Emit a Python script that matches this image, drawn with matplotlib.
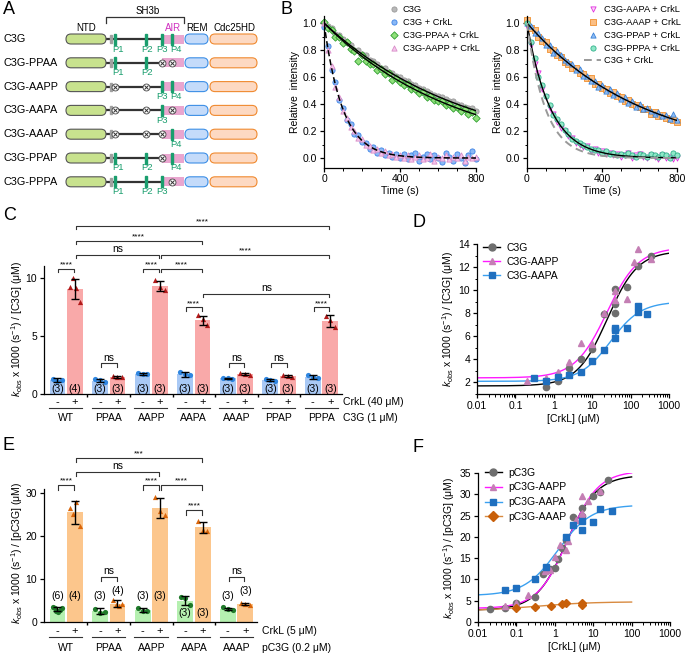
import numpy as np
import matplotlib.pyplot as plt
from matplotlib.patches import FancyBboxPatch, Rectangle
from matplotlib.lines import Line2D
from matplotlib.ticker import MultipleLocator, LogLocator, NullFormatter

plt.rcParams['font.family'] = ['Liberation Sans', 'DejaVu Sans']
plt.rcParams['mathtext.fontset'] = 'custom'
plt.rcParams['mathtext.rm'] = 'Liberation Sans'
plt.rcParams['mathtext.it'] = 'Liberation Sans:italic'
plt.rcParams['font.size'] = 7.5
plt.rcParams['axes.linewidth'] = 0.9
plt.rcParams['axes.labelsize'] = 7.5
plt.rcParams['axes.labelpad'] = 2
plt.rcParams['axes.spines.top'] = False
plt.rcParams['axes.spines.right'] = False
for a in ('xtick', 'ytick'):
    plt.rcParams[a + '.major.width'] = 0.9
    plt.rcParams[a + '.minor.width'] = 0.7
    plt.rcParams[a + '.major.size'] = 3
    plt.rcParams[a + '.minor.size'] = 1.8
    plt.rcParams[a + '.labelsize'] = 7.5
    plt.rcParams[a + '.major.pad'] = 2

# ---------------- data ----------------
# A: constructs
variant_names = ['C3G', 'C3G-PPAA', 'C3G-AAPP', 'C3G-AAPA', 'C3G-AAAP', 'C3G-PPAP', 'C3G-PPPA']
variant_motifs = ['PPPP', 'PPAA', 'AAPP', 'AAPA', 'AAAP', 'PPAP', 'PPPA']
motif_names = ['P1', 'P2', 'P3', 'P4']

# B: relative intensity time courses (every 20 s)
time_s = np.arange(0, 801, 20)
b_c3g = [1.00, 0.98, 0.96, 0.92, 0.91, 0.88, 0.86, 0.84, 0.80, 0.80, 0.77, 0.76, 0.73, 0.72,
         0.70, 0.67, 0.67, 0.64, 0.63, 0.61, 0.60, 0.58, 0.57, 0.55, 0.54, 0.52, 0.51, 0.50,
         0.48, 0.47, 0.46, 0.45, 0.44, 0.42, 0.42, 0.40, 0.39, 0.38, 0.37, 0.37, 0.35]
b_c3g_crkl = [0.97, 0.83, 0.65, 0.56, 0.43, 0.37, 0.28, 0.25, 0.18, 0.17, 0.12, 0.11, 0.07, 0.08,
              0.04, 0.06, 0.02, 0.04, 0.01, 0.03, 0.00, 0.03, -0.01, 0.02, 0.04, -0.02, 0.01,
              0.03, -0.01, 0.02, 0.00, -0.03, 0.04, 0.01, -0.02, 0.03, 0.00, -0.04, 0.02, 0.05, -0.01]
b_ppaa = [1.01, 0.96, 0.95, 0.90, 0.90, 0.85, 0.86, 0.81, 0.79, 0.72, 0.76, 0.72, 0.70, 0.70,
          0.65, 0.66, 0.62, 0.63, 0.58, 0.59, 0.56, 0.54, 0.55, 0.51, 0.51, 0.48, 0.49, 0.45,
          0.46, 0.43, 0.42, 0.42, 0.39, 0.40, 0.37, 0.38, 0.35, 0.36, 0.33, 0.34, 0.30]
b_aapp = [1.00, 0.80, 0.68, 0.53, 0.45, 0.35, 0.30, 0.23, 0.20, 0.15, 0.14, 0.10, 0.09, 0.06,
          0.07, 0.04, 0.05, 0.02, 0.03, 0.01, 0.02, 0.00, 0.02, -0.01, 0.01, 0.02, -0.01, 0.00,
          0.03, -0.02, 0.01, 0.00, 0.02, -0.01, 0.01, 0.00, 0.02, -0.02, 0.01, 0.00, 0.01]
b_aapa = [0.98, 0.84, 0.70, 0.63, 0.51, 0.45, 0.37, 0.33, 0.27, 0.22, 0.20, 0.16, 0.15, 0.11,
          0.10, 0.08, 0.09, 0.05, 0.07, 0.04, 0.05, 0.03, 0.04, 0.02, 0.03, 0.01, 0.02, 0.04,
          0.00, 0.02, 0.03, 0.01, 0.00, 0.02, 0.01, -0.01, 0.02, 0.00, 0.01, -0.01, 0.00]
b_aaap = [1.02, 0.96, 0.95, 0.90, 0.87, 0.86, 0.81, 0.80, 0.76, 0.75, 0.71, 0.70, 0.67, 0.67,
          0.63, 0.62, 0.59, 0.59, 0.55, 0.55, 0.52, 0.51, 0.48, 0.49, 0.46, 0.45, 0.42, 0.43,
          0.40, 0.39, 0.38, 0.36, 0.36, 0.33, 0.34, 0.31, 0.32, 0.30, 0.29, 0.28, 0.27]
b_ppap = [1.00, 0.98, 0.93, 0.93, 0.89, 0.84, 0.84, 0.78, 0.79, 0.76, 0.73, 0.71, 0.70, 0.65,
          0.66, 0.61, 0.61, 0.57, 0.57, 0.53, 0.54, 0.50, 0.51, 0.47, 0.48, 0.44, 0.45, 0.41,
          0.42, 0.38, 0.40, 0.36, 0.37, 0.35, 0.33, 0.34, 0.31, 0.32, 0.29, 0.33, 0.28]
b_pppa = [1.00, 0.86, 0.74, 0.60, 0.54, 0.46, 0.39, 0.32, 0.29, 0.25, 0.21, 0.18, 0.14, 0.13,
          0.11, 0.10, 0.08, 0.07, 0.06, 0.06, 0.04, 0.05, 0.03, 0.04, 0.02, 0.03, 0.02, 0.04,
          0.02, 0.01, 0.03, 0.02, 0.01, 0.03, 0.02, 0.01, 0.03, 0.02, 0.00, 0.04, 0.02]
# single-exponential fit rates (1/s)
k_c3g, k_ppaa, k_c3g_crkl = 0.00131, 0.00142, 0.0102
k_right_slow, k_right_fast = 0.0016, 0.008

# C: kobs, C3G (1 uM) +/- CrkL (40 uM)
c_groups = ['WT', 'PPAA', 'AAPP', 'AAPA', 'AAAP', 'PPAP', 'PPPA']
c_minus_mean = [1.2, 1.15, 1.75, 1.7, 1.35, 1.2, 1.45]
c_minus_sd = [0.15, 0.15, 0.1, 0.2, 0.05, 0.07, 0.15]
c_minus_pts = [[1.3, 1.1, 1.2], [1.3, 1.2, 1.05], [1.8, 1.75, 1.7], [1.9, 1.75, 1.6],
               [1.4, 1.35, 1.3], [1.25, 1.2, 1.15], [1.6, 1.45, 1.4]]
c_plus_mean = [9.05, 1.5, 9.3, 6.35, 1.7, 1.55, 6.3]
c_plus_sd = [0.85, 0.08, 0.45, 0.4, 0.1, 0.1, 0.5]
c_plus_pts = [[9.2, 9.95, 9.1, 7.95], [1.55, 1.5, 1.45], [9.8, 9.2, 8.95], [6.8, 6.5, 5.9],
              [1.8, 1.7, 1.65], [1.65, 1.55, 1.5], [6.75, 6.4, 5.8]]
c_sig = [(0, '-', 0, '+', 10.8, '****'), (2, '-', 2, '+', 10.8, '****'), (2, '+', 3, '+', 10.8, '****'),
         (3, '-', 3, '+', 7.45, '****'), (6, '-', 6, '+', 7.45, '****'), (3, '+', 6, '+', 8.65, 'ns'),
         (1, '-', 1, '+', 2.65, 'ns'), (4, '-', 4, '+', 2.65, 'ns'), (5, '-', 5, '+', 2.65, 'ns'),
         (0, '+', 2, '+', 12.0, 'ns'), (2, '+', 6, '+', 12.0, '****'), (0, '+', 3, '+', 13.2, '****'),
         (0, '+', 6, '+', 14.5, '****')]

# D: titration, C3G
d_c3g_x = [0.625, 1.25, 2.5, 5, 10, 20, 40, 40, 40, 80, 160, 350]
d_c3g_y = [1.65, 2.1, 3.25, 4.0, 4.9, 7.95, 10.1, 8.0, 8.8, 10.3, 12.1, 13.0]
d_aapp_x = [0.2, 0.625, 1.25, 2.5, 5, 10, 20, 40, 40, 80, 120, 160, 350]
d_aapp_y = [2.1, 2.4, 2.95, 3.8, 5.45, 5.35, 8.0, 9.95, 9.15, 9.2, 12.4, 13.6, 12.7]
d_aapa_x = [0.3, 0.625, 1.25, 2.5, 5, 10, 20, 40, 40, 40, 80, 160, 160, 270]
d_aapa_y = [2.4, 2.1, 2.5, 2.65, 2.95, 3.9, 4.8, 5.85, 6.55, 6.7, 6.75, 8.65, 8.15, 7.9]
# fit parameters: baseline, plateau, K (uM), Hill n
d_fit_c3g = (1.7, 13.4, 25, 1.1)
d_fit_aapp = (2.4, 13.7, 24, 1.05)
d_fit_aapa = (2.1, 9.0, 30, 1.1)

# E: kobs, pC3G (0.2 uM) +/- CrkL (5 uM)
e_groups = ['WT', 'PPAA', 'AAPP', 'AAPA', 'AAAP']
e_minus_mean = [3.0, 2.5, 2.8, 5.0, 3.1]
e_minus_sd = [0.5, 0.7, 0.5, 1.0, 0.25]
e_minus_pts = [[3.5, 3.2, 2.6, 2.4, 2.8, 3.3], [3.0, 2.2, 2.3], [3.2, 2.6, 2.6], [5.9, 5.6, 3.9],
               [3.4, 3.1, 2.9]]
e_plus_mean = [25.5, 4.3, 26.5, 22.0, 4.2]
e_plus_sd = [2.6, 0.8, 2.4, 1.2, 0.3]
e_plus_pts = [[26.5, 25.2, 28.0, 22.3], [5.2, 4.0, 3.8, 4.3], [29.0, 25.8, 24.8], [23.5, 21.5, 21.2],
              [4.5, 4.3, 4.0]]
e_sig = [(0, '-', 0, '+', 31.8, '****'), (2, '-', 2, '+', 31.8, '****'), (2, '+', 3, '+', 31.8, '****'),
         (3, '-', 3, '+', 26.0, '****'), (1, '-', 1, '+', 10.5, 'ns'), (4, '-', 4, '+', 10.5, 'ns'),
         (0, '+', 2, '+', 34.9, 'ns'), (0, '+', 3, '+', 38.2, '***')]

# F: titration, pC3G
f_pc3g_x = [0.02, 0.05, 0.1, 0.3, 0.5, 0.75, 1.0, 1.2, 1.5, 2.0, 3.0, 5, 5, 10, 15, 25]
f_pc3g_y = [3.0, 3.4, 4.5, 5.9, 11.2, 12.4, 12.8, 14.8, 17.5, 19.2, 24.6, 26.7, 25.0, 29.5, 30.5, 33.3]
f_aapp_x = [0.05, 0.1, 0.2, 0.55, 0.75, 1.0, 1.4, 2.0, 2.2, 3.5, 5, 5, 5, 7.5, 15]
f_aapp_y = [3.8, 4.5, 6.3, 11.9, 12.1, 15.3, 18.0, 17.0, 19.0, 24.0, 29.5, 25.6, 24.8, 28.5, 30.8]
f_aapa_x = [0.05, 0.1, 0.3, 0.6, 2.0, 3.0, 5, 5, 10, 15, 30]
f_aapa_y = [7.4, 7.9, 10.1, 12.9, 20.0, 22.8, 23.8, 21.6, 23.5, 26.5, 26.1]
f_aaap_x = [0.1, 0.3, 0.8, 1.5, 2.0, 5, 5]
f_aaap_y = [3.2, 3.6, 3.7, 4.3, 4.4, 4.4, 4.1]
f_fit_pc3g = (2.8, 34.5, 2.0, 1.1)
f_fit_aapp = (3.2, 35.5, 2.2, 1.1)
f_fit_aapa = (6.2, 27.5, 1.2, 1.0)
f_fit_aaap = (2.6, 4.75, 0.3, 0.6)

# ---------------- figure ----------------
W, H = 685, 654
fig = plt.figure(figsize=(W / 100, H / 100), dpi=100)


def px_axes(x0, y0, x1, y1):
    # box in pixels, origin top-left
    return fig.add_axes([x0 / W, 1 - y1 / H, (x1 - x0) / W, (y1 - y0) / H])


def hill(x, y0, ymax, k, n):
    return y0 + (ymax - y0) * x ** n / (k ** n + x ** n)


for lab, x, y in [('A', 3, 10), ('B', 281, 10), ('C', 3, 215), ('D', 413, 223), ('E', 3, 445), ('F', 413, 447)]:
    fig.text(x / W, 1 - y / H, lab, fontsize=13, va='center')

# ---- A ----
ax = px_axes(0, 0, 310, 200)
ax.set_xlim(0, 310)
ax.set_ylim(200, 0)
ax.axis('off')
green = '#1a9e6e'
motif_x = [115, 146, 162, 172]
label_x = [118, 147, 162, 176]
ax.plot([106, 106, 184, 184], [23, 17, 17, 23], color='#333333', lw=0.9)
ax.text(148, 11, 'SH3b', ha='center', va='center', fontsize=7)
ax.text(86, 28, 'NTD', ha='center', va='center', fontsize=7)
ax.text(173, 28, 'AIR', ha='center', va='center', fontsize=7, color='#d030c0')
ax.text(197, 28, 'REM', ha='center', va='center', fontsize=7)
ax.text(234, 28, 'Cdc25HD', ha='center', va='center', fontsize=7)
for i, (name, motif) in enumerate(zip(variant_names, variant_motifs)):
    y = 39 + i * 23.8
    ax.text(4, y, name, va='center', fontsize=7.8)
    ax.plot([106, 162], [y, y], color='#333333', lw=1.6, zorder=1)
    ax.add_patch(Rectangle((110, y - 4), 2.2, 8, color='#a0a0a0', zorder=2))
    ax.add_patch(Rectangle((162, y - 4.5), 22, 9, fc='#e9a6cf', ec='none', zorder=2))
    ax.add_patch(FancyBboxPatch((66, y - 5), 40, 10, boxstyle='round,pad=0,rounding_size=5',
                                fc='#c8e28e', ec='#555555', lw=0.8, zorder=3))
    ax.add_patch(FancyBboxPatch((185, y - 5), 23, 10, boxstyle='round,pad=0,rounding_size=5',
                                fc='#c4dbfa', ec='#3d8fe6', lw=0.8, zorder=3))
    ax.add_patch(FancyBboxPatch((210, y - 5), 47, 10, boxstyle='round,pad=0,rounding_size=5',
                                fc='#fdd9c2', ec='#f08a30', lw=0.8, zorder=3))
    for j, ch in enumerate(motif):
        x = motif_x[j]
        if ch == 'P':
            ax.add_patch(Rectangle((x - 1.2, y - 5.5), 2.4, 11, color=green, zorder=4))
            ax.text(label_x[j], y + 10, motif_names[j], ha='center', va='center', fontsize=6.8, color=green)
        else:
            ax.plot(x, y, marker='o', ms=5, mfc='white', mec='#444444', mew=0.6, zorder=5)
            ax.plot(x, y, marker='x', ms=2.6, mec='#333333', mew=0.7, zorder=6)


# ---- B ----
def b_axes(x0, x1):
    ax = px_axes(x0, 16.3, x1, 167.5)
    ax.set_xlim(0, 800)
    ax.set_ylim(-0.07, 1.05)
    ax.set_xticks([0, 400, 800])
    ax.xaxis.set_minor_locator(MultipleLocator(100))
    ax.set_yticks(np.arange(0, 1.01, 0.2))
    ax.yaxis.set_minor_locator(MultipleLocator(0.1))
    ax.yaxis.set_major_formatter('{x:.1f}')
    ax.set_xlabel('Time (s)', labelpad=1)
    ax.set_ylabel('Relative  intensity')
    return ax


tt = np.linspace(0, 800, 200)
ax = b_axes(324, 476)
for ys, lab, mk, fc, ec in [(b_c3g, 'C3G', 'o', '#b8b8b8', '#9a9a9a'),
                            (b_c3g_crkl, 'C3G + CrkL', 'o', '#8ab8f5', '#3c82e6'),
                            (b_ppaa, 'C3G-PPAA + CrkL', 'D', '#8fe07a', '#2f9e2f'),
                            (b_aapp, 'C3G-AAPP + CrkL', '^', '#f5c6ec', '#d88cc8')]:
    ax.scatter(time_s, ys, s=14, marker=mk, fc=fc, ec=ec, lw=0.6, label=lab, zorder=2, clip_on=False)
ax.plot(tt, np.exp(-k_c3g * tt), color='black', lw=1, zorder=3)
ax.plot(tt, np.exp(-k_ppaa * tt), color='black', lw=1, zorder=3)
ax.plot(tt, np.exp(-k_c3g_crkl * tt), color='black', lw=1.1, dashes=(4, 2), zorder=3)
ax.legend(loc='upper left', bbox_to_anchor=(0.421, 1.076), frameon=False, fontsize=6.7,
          handlelength=1.2, handletextpad=0.4, labelspacing=0.42, borderpad=0, borderaxespad=0,
          scatterpoints=1)

ax = b_axes(527, 677)
for ys, lab, mk, fc, ec in [(b_aapa, 'C3G-AAPA + CrkL', 'v', '#fbd3f6', '#e030e0'),
                            (b_aaap, 'C3G-AAAP + CrkL', 's', '#fbbf85', '#f0902e'),
                            (b_ppap, 'C3G-PPAP + CrkL', '^', '#8ebcf3', '#3a82d8'),
                            (b_pppa, 'C3G-PPPA + CrkL', 'o', '#8fe8c8', '#2fb08a')]:
    ax.scatter(time_s, ys, s=14, marker=mk, fc=fc, ec=ec, lw=0.6, label=lab, zorder=2, clip_on=False)
ax.plot(tt, np.exp(-k_right_slow * tt), color='black', lw=1, zorder=3)
ax.plot(tt, np.exp(-k_right_fast * tt), color='black', lw=1, zorder=3)
ax.plot(tt, np.exp(-k_c3g_crkl * tt), color='#999999', lw=1.4, dashes=(4, 2.5), zorder=3,
        label='C3G + CrkL')
ax.legend(loc='upper left', bbox_to_anchor=(0.383, 1.076), frameon=False, fontsize=6.7,
          handlelength=1.8, handletextpad=0.3, labelspacing=0.42, borderpad=0, borderaxespad=0,
          scatterpoints=1)


# ---- bar panels ----
def bracket(ax, g1, s1, g2, s2, y, h, label):
    x1 = g1 + (0.205 if s1 == '+' else -0.205) + 0.02
    x2 = g2 + (0.205 if s2 == '+' else -0.205) - 0.02
    ax.plot([x1, x1, x2, x2], [y - h, y, y, y - h], color='#333333', lw=0.8, clip_on=False)
    if '*' in label:
        ax.text((x1 + x2) / 2, y + h * 0.15, label, ha='center', va='bottom', fontsize=6)
    else:
        ax.text((x1 + x2) / 2, y + h * 0.15, label, ha='center', va='bottom', fontsize=7.5)


def bar_panel(ax, groups, m_mean, m_sd, m_pts, p_mean, p_sd, p_pts, colors, sig, h):
    bm, pm, bp, pp = colors
    for i in range(len(groups)):
        for x, mean, sd, pts, bc, pc, mk in [(i - 0.205, m_mean[i], m_sd[i], m_pts[i], bm, pm, 'o'),
                                             (i + 0.205, p_mean[i], p_sd[i], p_pts[i], bp, pp, '^')]:
            ax.bar(x, mean, width=0.37, color=bc, zorder=1)
            off = np.linspace(-0.11, 0.11, len(pts))
            ax.scatter(x + off, pts, s=14, marker=mk, color=pc, lw=0, zorder=3)
            ax.errorbar(x, mean, yerr=sd, fmt='none', ecolor='black', elinewidth=1,
                        capsize=3, capthick=1, zorder=4)
    for s in sig:
        bracket(ax, *s[:5], h, s[5])
    ax.set_xlim(-0.52, len(groups) - 0.52)
    ax.set_xticks([])
    ax.set_xticks(np.arange(len(groups) - 1) + 0.5, minor=True)
    ax.tick_params(axis='x', which='minor', length=2, width=1)
    ax.set_xticklabels([], minor=True)


def bar_labels(ax, groups, y_pm, y_line, y_grp, row1, row2, xr):
    tr = ax.get_xaxis_transform()
    for i, g in enumerate(groups):
        ax.text(i - 0.205, y_pm, '-', transform=tr, ha='center', va='center', fontsize=8)
        ax.text(i + 0.205, y_pm, '+', transform=tr, ha='center', va='center', fontsize=8)
        ax.plot([i - 0.4, i + 0.38], [y_line, y_line], transform=tr, color='#333333', lw=0.8, clip_on=False)
        ax.text(i, y_grp, g, transform=tr, ha='center', va='center', fontsize=7.5)
    ax.text(xr, y_pm, row1, transform=ax.transAxes, ha='left', va='center', fontsize=7.5)
    ax.text(xr, y_grp, row2, transform=ax.transAxes, ha='left', va='center', fontsize=7.5)


# C
ax = px_axes(44, 214, 342, 394)
bar_panel(ax, c_groups, c_minus_mean, c_minus_sd, c_minus_pts, c_plus_mean, c_plus_sd, c_plus_pts,
          ('#a9c9f5', '#2f86e0', '#f9a9a9', '#b21a1a'), c_sig, 0.3)
ax.set_ylim(0, 15.5)
ax.spines['left'].set_bounds(0, 11)
ax.set_yticks([0, 5, 10])
ax.set_ylabel(r'$k_{\mathrm{obs}}$ x 1000 (s$^{-1}$) / [C3G] (μM)', labelpad=4)
ax.yaxis.set_label_coords(-0.065, 0.36)
for i in range(len(c_groups)):
    ax.text(i - 0.205, 0.45, '(%d)' % len(c_minus_pts[i]), ha='center', va='center', fontsize=7.5, zorder=5)
    ax.text(i + 0.205, 0.45, '(%d)' % len(c_plus_pts[i]), ha='center', va='center', fontsize=7.5, zorder=5)
bar_labels(ax, c_groups, -0.046, -0.08, -0.135, 'CrkL (40 μM)', 'C3G (1 μM)', 1.005)

# E
ax = px_axes(44, 450, 257, 622)
bar_panel(ax, e_groups, e_minus_mean, e_minus_sd, e_minus_pts, e_plus_mean, e_plus_sd, e_plus_pts,
          ('#b5f0b0', '#1f7a2a', '#fcc68c', '#d9650a'), e_sig, 1.0)
ax.set_ylim(0, 40)
ax.spines['left'].set_bounds(0, 31)
ax.set_yticks([0, 10, 20, 30])
ax.set_ylabel(r'$k_{\mathrm{obs}}$ x 1000 (s$^{-1}$) / [pC3G] (μM)', labelpad=4)
ax.yaxis.set_label_coords(-0.09, 0.4)
e_minus_lab_y = [6.0, 6.0, 6.0, 2.1, 6.0]
e_plus_lab_y = [6.0, 7.2, 6.0, 2.1, 7.2]
for i in range(len(e_groups)):
    ax.text(i - 0.205, e_minus_lab_y[i], '(%d)' % len(e_minus_pts[i]), ha='center', va='center', fontsize=7.5, zorder=5)
    ax.text(i + 0.205, e_plus_lab_y[i], '(%d)' % len(e_plus_pts[i]), ha='center', va='center', fontsize=7.5, zorder=5)
bar_labels(ax, e_groups, -0.052, -0.088, -0.152, 'CrkL (5 μM)', 'pC3G (0.2 μM)', 1.023)


# ---- titrations ----
def titr_axes(x0, y0, x1, y1, ylim, ylab):
    ax = px_axes(x0, y0, x1, y1)
    ax.set_xscale('log')
    ax.set_xlim(0.01, 1000)
    ax.set_ylim(*ylim)
    ax.set_xticks([0.01, 0.1, 1, 10, 100, 1000])
    ax.set_xticklabels(['0.01', '0.1', '1', '10', '100', '1000'])
    ax.xaxis.set_minor_locator(LogLocator(base=10, subs=np.arange(2, 10), numticks=20))
    ax.xaxis.set_minor_formatter(NullFormatter())
    ax.set_xlabel('[CrkL] (μM)', labelpad=2)
    ax.set_ylabel(ylab)
    return ax


xx = np.logspace(-2, 3, 300)
ax = titr_axes(477, 244, 669, 394, (1, 14), r'$k_{\mathrm{obs}}$ x 1000 (s$^{-1}$) / [C3G] (μM)')
ax.set_yticks(np.arange(2, 15, 2))
ax.yaxis.set_minor_locator(MultipleLocator(1))
for xs, ys, fit, lab, mk, mc, lc in [(d_c3g_x, d_c3g_y, d_fit_c3g, 'C3G', 'o', '#6e6e6e', 'black'),
                                     (d_aapp_x, d_aapp_y, d_fit_aapp, 'C3G-AAPP', '^', '#c47fb4', '#ff1aff'),
                                     (d_aapa_x, d_aapa_y, d_fit_aapa, 'C3G-AAPA', 's', '#1f6fbf', '#3aa0f0')]:
    ax.plot(xx, hill(xx, *fit), color=lc, lw=1, zorder=2)
    ax.plot(xs, ys, ls='none', marker=mk, ms=4.5, color=mc, zorder=3)
handles = [Line2D([], [], color='black', marker='o', ms=5, mfc='#6e6e6e', mec='#6e6e6e', lw=1),
           Line2D([], [], color='#ff1aff', marker='^', ms=5, mfc='#c47fb4', mec='#c47fb4', lw=1),
           Line2D([], [], color='#3aa0f0', marker='s', ms=5, mfc='#1f6fbf', mec='#1f6fbf', lw=1)]
ax.legend(handles, ['C3G', 'C3G-AAPP', 'C3G-AAPA'], loc='upper left', bbox_to_anchor=(0.03, 1.01),
          frameon=False, fontsize=7.5, handlelength=1.7, handletextpad=0.6, labelspacing=0.4,
          borderpad=0, borderaxespad=0)

xf = np.logspace(-2, 2, 300)
ax = titr_axes(478, 473, 670, 622, (0, 35), r'$k_{\mathrm{obs}}$ x 1000 (s$^{-1}$) / [pC3G] (μM)')
ax.set_yticks(np.arange(0, 36, 5))
for xs, ys, fit, mk, mc, lc in [(f_pc3g_x, f_pc3g_y, f_fit_pc3g, 'o', '#6e6e6e', 'black'),
                                (f_aapp_x, f_aapp_y, f_fit_aapp, '^', '#c47fb4', '#ff1aff'),
                                (f_aapa_x, f_aapa_y, f_fit_aapa, 's', '#1f6fbf', '#3aa0f0'),
                                (f_aaap_x, f_aaap_y, f_fit_aaap, 'D', '#c8600a', '#d88a40')]:
    ax.plot(xf, hill(xf, *fit), color=lc, lw=1, zorder=2)
    ax.plot(xs, ys, ls='none', marker=mk, ms=4.5, color=mc, zorder=3)
handles = [Line2D([], [], color='black', marker='o', ms=5, mfc='#6e6e6e', mec='#6e6e6e', lw=1),
           Line2D([], [], color='#ff1aff', marker='^', ms=5, mfc='#c47fb4', mec='#c47fb4', lw=1),
           Line2D([], [], color='#3aa0f0', marker='s', ms=5, mfc='#1f6fbf', mec='#1f6fbf', lw=1),
           Line2D([], [], color='#d88a40', marker='D', ms=5, mfc='#c8600a', mec='#c8600a', lw=1)]
ax.legend(handles, ['pC3G', 'pC3G-AAPP', 'pC3G-AAPA', 'pC3G-AAAP'], loc='upper left',
          bbox_to_anchor=(0.036, 1.035), frameon=False, fontsize=7.5, handlelength=1.6,
          handletextpad=0.6, labelspacing=0.45, borderpad=0, borderaxespad=0)

fig.savefig('out.png', dpi=100)
